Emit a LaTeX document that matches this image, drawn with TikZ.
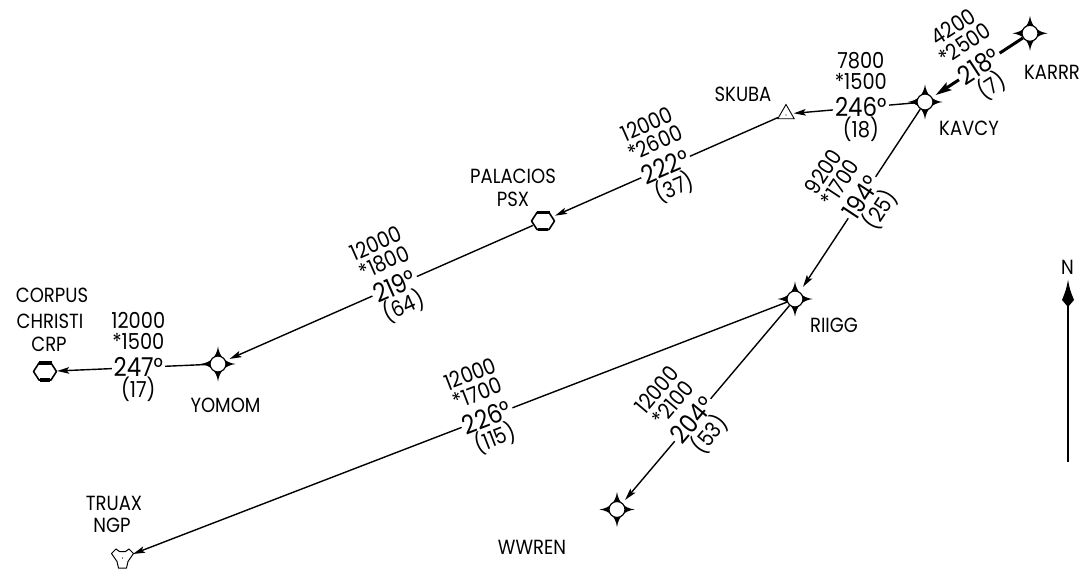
\documentclass[tikz,border=0pt]{standalone}
\usepackage{fontspec}
\setmainfont{Poppins}[FakeStretch=0.88]
\usetikzlibrary{arrows.meta,shapes.geometric}
\tikzset{
 route/.style={line width=1.4pt, -{Stealth[length=12pt,width=6.5pt,inset=2.5pt]}},
 boldroute/.style={line width=3pt, -{Stealth[length=16pt,width=9pt,inset=3pt]}},
 hdg/.style={font=\fontsize{26}{26}\selectfont, fill=white, inner xsep=2pt, inner ysep=0pt, text height=18pt, text depth=0pt},
 altlbl/.style={font=\fontsize{22}{20.5}\selectfont, align=center, inner sep=0pt, text depth=0pt, outer ysep=8.5pt},
 distlbl/.style={font=\fontsize{22}{22}\selectfont, inner sep=0pt, text height=15.5pt, text depth=0pt, outer ysep=5pt},
 fixlbl/.style={font=\fontsize{20.5}{23}\selectfont, inner sep=0pt, text height=14.5pt, text depth=0pt},
 wpt/.style={circle, draw, fill=white, line width=1.2pt, minimum size=16pt, inner sep=0pt},
 navaid/.style={circle, minimum size=22pt, inner sep=0pt},
 hexline/.style={line width=1.6pt, line join=round},
 hexbar/.style={line width=3.5pt},
}
\newcommand\starfix[2]{%
 \fill[shift={(#2)}] (17.5,0) .. controls (7,1.6) and (1.6,7) .. (0,17.5) .. controls (-1.6,7) and (-7,1.6) .. (-17.5,0) .. controls (-7,-1.6) and (-1.6,-7) .. (0,-17.5) .. controls (1.6,-7) and (7,-1.6) .. cycle;
 \node[wpt] (#1) at (#2) {};}
\newcommand\hexaid[2]{%
 \node[navaid] (#1) at (#2) {};
 \draw[hexline, shift={(#2)}] (-11.5,0) -- (-6,-8.5) -- (6,-8.5) -- (11.5,0) -- (6,8.5) -- (-6,8.5) -- cycle;
 \draw[hexbar, shift={(#2)}] (-6.5,-8.5) -- (6.5,-8.5) (-5,8.5) -- (5,8.5);}
\newcommand\routeleg[9]{%
 \draw[#9] (#1) -- (#2) node[hdg, pos=#3, rotate=#4] (h#1#2) {#7};
 \node[altlbl, rotate=#4, anchor=south] at (h#1#2.north) {#5\\#6};
 \node[distlbl, rotate=#4, anchor=north] at (h#1#2.south) {#8};}
\begin{document}
\begin{tikzpicture}[x=1pt,y=-1pt]
\useasboundingbox (0,0) rectangle (1085,569);
% fixes
\starfix{KARRR}{1030,33.3}
\starfix{KAVCY}{925,102}
\starfix{YOMOM}{218,364}
\starfix{RIIGG}{795,299}
\starfix{WWREN}{617,509.5}
\node[draw, regular polygon, regular polygon sides=3, minimum size=19pt, inner sep=0pt, line width=0.9pt] (SKUBA) at (786,114) {};
\fill (786,115) circle (0.7);
\hexaid{PSX}{543,221}
\hexaid{CRP}{45,371.5}
\node[navaid, minimum size=20pt] (NGP) at (122.5,558) {};
\draw[line width=1pt, line join=round, shift={(122.5,558)}] (-11,-4.5) -- (-6.5,-9) -- (-3,-6.5) -- (3,-6.5) -- (6.5,-9) -- (11,-4.5) -- (5.5,3.5) -- (4,10) -- (-4,10) -- (-5.5,3.5) -- cycle;
\fill (122.5,558) circle (0.6);
% labels
\node[fixlbl] (lKARRR) at (1052,72.5) {KARRR};
\node[fixlbl] (lKAVCY) at (969,128.5) {KAVCY};
\node[fixlbl] (lSKUBA) at (743,94.5) {SKUBA};
\node[fixlbl] (lPAL) at (513,176) {PALACIOS};
\node[fixlbl] (lPSX) at (513,199.5) {PSX};
\node[fixlbl] (lCOR) at (52,295.5) {CORPUS};
\node[fixlbl] (lCHR) at (50,321.5) {CHRISTI};
\node[fixlbl] (lCRP) at (49,344.5) {CRP};
\node[fixlbl] (lYOMOM) at (225.5,405.5) {YOMOM};
\node[fixlbl] (lTRUAX) at (114,503.5) {TRUAX};
\node[fixlbl] (lNGP) at (112,525.5) {NGP};
\node[fixlbl] (lRIIGG) at (834,325) {RIIGG};
\node[fixlbl] (lWWREN) at (532,547) {WWREN};
% routes
\routeleg{KARRR}{KAVCY}{0.48}{33.2}{4200}{*2500}{218°}{(7)}{boldroute, shorten >=4pt}
\routeleg{KAVCY}{SKUBA}{0.446}{0}{7800}{*1500}{246°}{(18)}{route, shorten >=2pt}
\routeleg{SKUBA}{PSX}{0.50}{23.8}{12000}{*2600}{222°}{(37)}{route, shorten >=2pt}
\routeleg{PSX}{YOMOM}{0.45}{23.75}{12000}{*1800}{219°}{(64)}{route, shorten >=4pt}
\routeleg{YOMOM}{CRP}{0.464}{0}{12000}{*1500}{247°}{(17)}{route, shorten >=1pt}
\routeleg{KAVCY}{RIIGG}{0.484}{56.6}{9200}{*1700}{194°}{(25)}{route, shorten >=6pt}
\routeleg{RIIGG}{WWREN}{0.58}{49.8}{12000}{*2100}{204°}{(53)}{route, shorten >=4pt}
\routeleg{RIIGG}{NGP}{0.458}{21.06}{12000}{*1700}{226°}{(115)}{route, shorten >=1pt}
% north arrow
\node[fixlbl] (north) at (1067.5,267.5) {N};
\coordinate (nhead) at (1068,300);
\coordinate (nfoot) at (1068,462);
\fill (1068,280) .. controls (1070,290) .. (1074,300) -- (1068,307) -- (1062,300) .. controls (1066,290) .. cycle;
\draw[line width=1.2pt] (nhead) -- (nfoot);
\end{tikzpicture}
\end{document}
